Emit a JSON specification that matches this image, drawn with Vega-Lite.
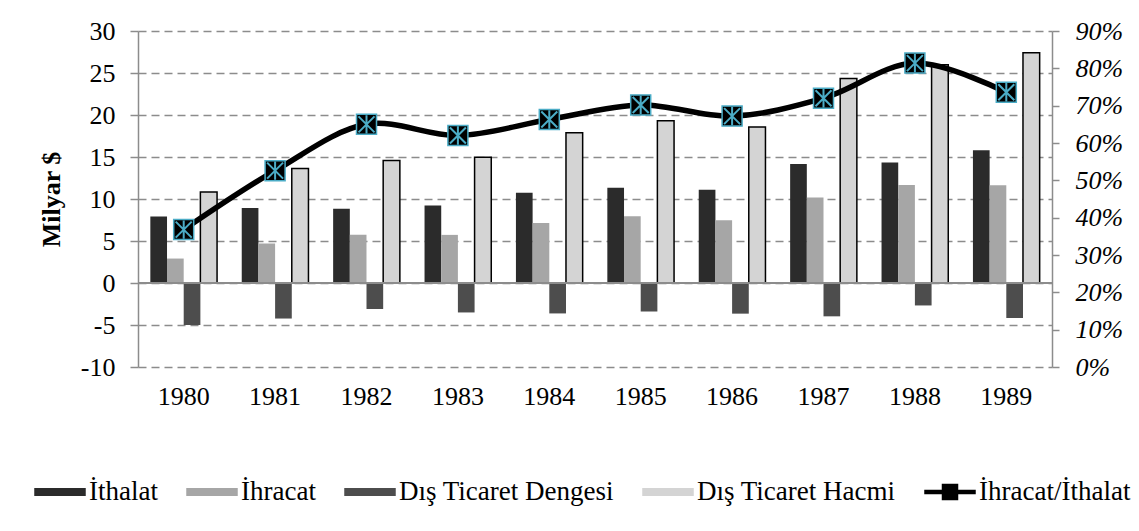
{
  "$schema": "https://vega.github.io/schema/vega-lite/v6.json",
  "width": 914,
  "height": 336,
  "autosize": {"type": "none"},
  "padding": {"left": 138, "top": 31, "right": 87, "bottom": 164},
  "background": "white",
  "config": {
    "view": {"stroke": null},
    "font": "Liberation Serif",
    "axis": {"labelFont": "Liberation Serif", "titleFont": "Liberation Serif", "labelColor": "black", "titleColor": "black"},
    "legend": {"labelFont": "Liberation Serif"}
  },
  "data": {
    "values": [
      {"year": "1980", "series": "İthalat", "value": 7.909},
      {"year": "1980", "series": "İhracat", "value": 2.910},
      {"year": "1980", "series": "Dış Ticaret Dengesi", "value": -4.999},
      {"year": "1980", "series": "Dış Ticaret Hacmi", "value": 10.819},
      {"year": "1980", "series": "İhracat/İthalat", "value": 0.368},
      {"year": "1981", "series": "İthalat", "value": 8.933},
      {"year": "1981", "series": "İhracat", "value": 4.703},
      {"year": "1981", "series": "Dış Ticaret Dengesi", "value": -4.230},
      {"year": "1981", "series": "Dış Ticaret Hacmi", "value": 13.636},
      {"year": "1981", "series": "İhracat/İthalat", "value": 0.526},
      {"year": "1982", "series": "İthalat", "value": 8.843},
      {"year": "1982", "series": "İhracat", "value": 5.746},
      {"year": "1982", "series": "Dış Ticaret Dengesi", "value": -3.097},
      {"year": "1982", "series": "Dış Ticaret Hacmi", "value": 14.589},
      {"year": "1982", "series": "İhracat/İthalat", "value": 0.650},
      {"year": "1983", "series": "İthalat", "value": 9.235},
      {"year": "1983", "series": "İhracat", "value": 5.728},
      {"year": "1983", "series": "Dış Ticaret Dengesi", "value": -3.507},
      {"year": "1983", "series": "Dış Ticaret Hacmi", "value": 14.963},
      {"year": "1983", "series": "İhracat/İthalat", "value": 0.620},
      {"year": "1984", "series": "İthalat", "value": 10.757},
      {"year": "1984", "series": "İhracat", "value": 7.134},
      {"year": "1984", "series": "Dış Ticaret Dengesi", "value": -3.623},
      {"year": "1984", "series": "Dış Ticaret Hacmi", "value": 17.891},
      {"year": "1984", "series": "İhracat/İthalat", "value": 0.663},
      {"year": "1985", "series": "İthalat", "value": 11.343},
      {"year": "1985", "series": "İhracat", "value": 7.958},
      {"year": "1985", "series": "Dış Ticaret Dengesi", "value": -3.385},
      {"year": "1985", "series": "Dış Ticaret Hacmi", "value": 19.301},
      {"year": "1985", "series": "İhracat/İthalat", "value": 0.702},
      {"year": "1986", "series": "İthalat", "value": 11.105},
      {"year": "1986", "series": "İhracat", "value": 7.457},
      {"year": "1986", "series": "Dış Ticaret Dengesi", "value": -3.648},
      {"year": "1986", "series": "Dış Ticaret Hacmi", "value": 18.562},
      {"year": "1986", "series": "İhracat/İthalat", "value": 0.672},
      {"year": "1987", "series": "İthalat", "value": 14.158},
      {"year": "1987", "series": "İhracat", "value": 10.190},
      {"year": "1987", "series": "Dış Ticaret Dengesi", "value": -3.968},
      {"year": "1987", "series": "Dış Ticaret Hacmi", "value": 24.348},
      {"year": "1987", "series": "İhracat/İthalat", "value": 0.720},
      {"year": "1988", "series": "İthalat", "value": 14.335},
      {"year": "1988", "series": "İhracat", "value": 11.662},
      {"year": "1988", "series": "Dış Ticaret Dengesi", "value": -2.673},
      {"year": "1988", "series": "Dış Ticaret Hacmi", "value": 25.997},
      {"year": "1988", "series": "İhracat/İthalat", "value": 0.814},
      {"year": "1989", "series": "İthalat", "value": 15.792},
      {"year": "1989", "series": "İhracat", "value": 11.625},
      {"year": "1989", "series": "Dış Ticaret Dengesi", "value": -4.167},
      {"year": "1989", "series": "Dış Ticaret Hacmi", "value": 27.417},
      {"year": "1989", "series": "İhracat/İthalat", "value": 0.736}
    ]
  },
  "layer": [
    {
      "layer": [
        {
          "transform": [{"filter": "datum.series !== 'İhracat/İthalat'"}],
          "mark": {"type": "bar", "stroke": "black", "strokeWidth": 1.5},
          "encoding": {
            "x": {
              "field": "year", "type": "ordinal",
              "scale": {"paddingInner": 0.27, "paddingOuter": 0.135},
              "axis": {"title": null, "labelAngle": 0, "domain": false, "ticks": false, "labelFontSize": 26, "labelPadding": 16}
            },
            "xOffset": {
              "field": "series", "type": "nominal",
              "scale": {"domain": ["İthalat", "İhracat", "Dış Ticaret Dengesi", "Dış Ticaret Hacmi"], "paddingInner": 0, "paddingOuter": 0}
            },
            "y": {
              "field": "value", "type": "quantitative",
              "scale": {"domain": [-10, 30], "nice": false, "zero": false},
              "axis": {
                "title": "Milyar $", "titleFontSize": 26, "titleFontWeight": "bold", "titlePadding": 16,
                "values": [-10, -5, 0, 5, 10, 15, 20, 25, 30],
                "labelExpr": "replace(datum.label, '−', '-')",
                "labelFontSize": 26, "labelPadding": 15,
                "domainColor": "#8c8c8c", "domainWidth": 1.5,
                "tickColor": "#8c8c8c", "tickSize": 8, "tickWidth": 1.5,
                "grid": true, "gridColor": "#8c8c8c", "gridDash": [8, 5], "gridWidth": 1.5
              }
            },
            "color": {
              "field": "series", "type": "nominal",
              "scale": {
                "domain": ["İthalat", "İhracat", "Dış Ticaret Dengesi", "Dış Ticaret Hacmi", "İhracat/İthalat"],
                "range": ["#2b2b2b", "#a6a6a6", "#4d4d4d", "#d4d4d4", "#000000"]
              },
              "legend": {
                "title": null, "orient": "none", "legendX": -104, "legendY": 435,
                "direction": "horizontal", "columns": 5, "columnPadding": 26,
                "labelFontSize": 27, "labelOffset": 3, "labelColor": "black", "labelLimit": 0,
                "symbolSize": 2500, "padding": 0, "symbolType": "M-1,-0.13H1V0.13H-1Z",
                "encode": {
                  "symbols": {
                    "update": {
                      "shape": {"signal": "datum.value === 'İhracat/İthalat' ? 'M-1,-0.06H1V0.06H-1Z M-0.3,-0.3H0.3V0.3H-0.3Z' : 'M-1,-0.13H1V0.13H-1Z'"}
                    }
                  }
                }
              }
            },
            "strokeOpacity": {
              "condition": {"test": "datum.series === 'Dış Ticaret Hacmi'", "value": 1},
              "value": 0
            }
          }
        },
        {
          "mark": {"type": "rule", "color": "#8c8c8c", "strokeWidth": 1.5},
          "encoding": {"y": {"datum": 0, "type": "quantitative"}}
        }
      ]
    },
    {
      "transform": [{"filter": "datum.series === 'İhracat/İthalat'"}],
      "encoding": {
        "x": {"field": "year", "type": "ordinal"},
        "y": {
          "field": "value", "type": "quantitative",
          "scale": {"domain": [0, 0.9], "nice": false},
          "axis": {
            "orient": "right", "title": null, "format": ".0%",
            "values": [0, 0.1, 0.2, 0.3, 0.4, 0.5, 0.6, 0.7, 0.8, 0.9],
            "labelOverlap": false,
            "labelFontSize": 26, "labelFontStyle": "italic", "labelPadding": 16,
            "domainColor": "#8c8c8c", "domainWidth": 1.5,
            "tickColor": "#8c8c8c", "tickSize": 7, "tickWidth": 1.5, "grid": false
          }
        }
      },
      "layer": [
        {
          "mark": {"type": "line", "interpolate": "catmull-rom", "strokeWidth": 5.5},
          "encoding": {
            "color": {
              "field": "series", "type": "nominal",
              "legend": {
                "title": null, "orient": "none", "legendX": -104, "legendY": 435,
                "direction": "horizontal", "columns": 5, "columnPadding": 26,
                "labelFontSize": 27, "labelOffset": 3, "labelColor": "black", "labelLimit": 0,
                "symbolSize": 2500, "padding": 0, "symbolType": "M-1,-0.13H1V0.13H-1Z",
                "encode": {
                  "symbols": {
                    "update": {
                      "shape": {"signal": "datum.value === 'İhracat/İthalat' ? 'M-1,-0.06H1V0.06H-1Z M-0.3,-0.3H0.3V0.3H-0.3Z' : 'M-1,-0.13H1V0.13H-1Z'"}
                    }
                  }
                }
              }
            }
          }
        },
        {
          "mark": {"type": "point", "shape": "square", "size": 400, "filled": true, "fill": "black", "stroke": "#4bacc6", "strokeWidth": 1.5, "opacity": 1}
        },
        {
          "mark": {"type": "point", "shape": "M-1,-1L1,1M1,-1L-1,1M0,-1.15L0,1.15", "size": 256, "filled": false, "stroke": "#4bacc6", "strokeWidth": 2, "opacity": 1}
        }
      ]
    }
  ],
  "resolve": {"scale": {"y": "independent"}}
}
